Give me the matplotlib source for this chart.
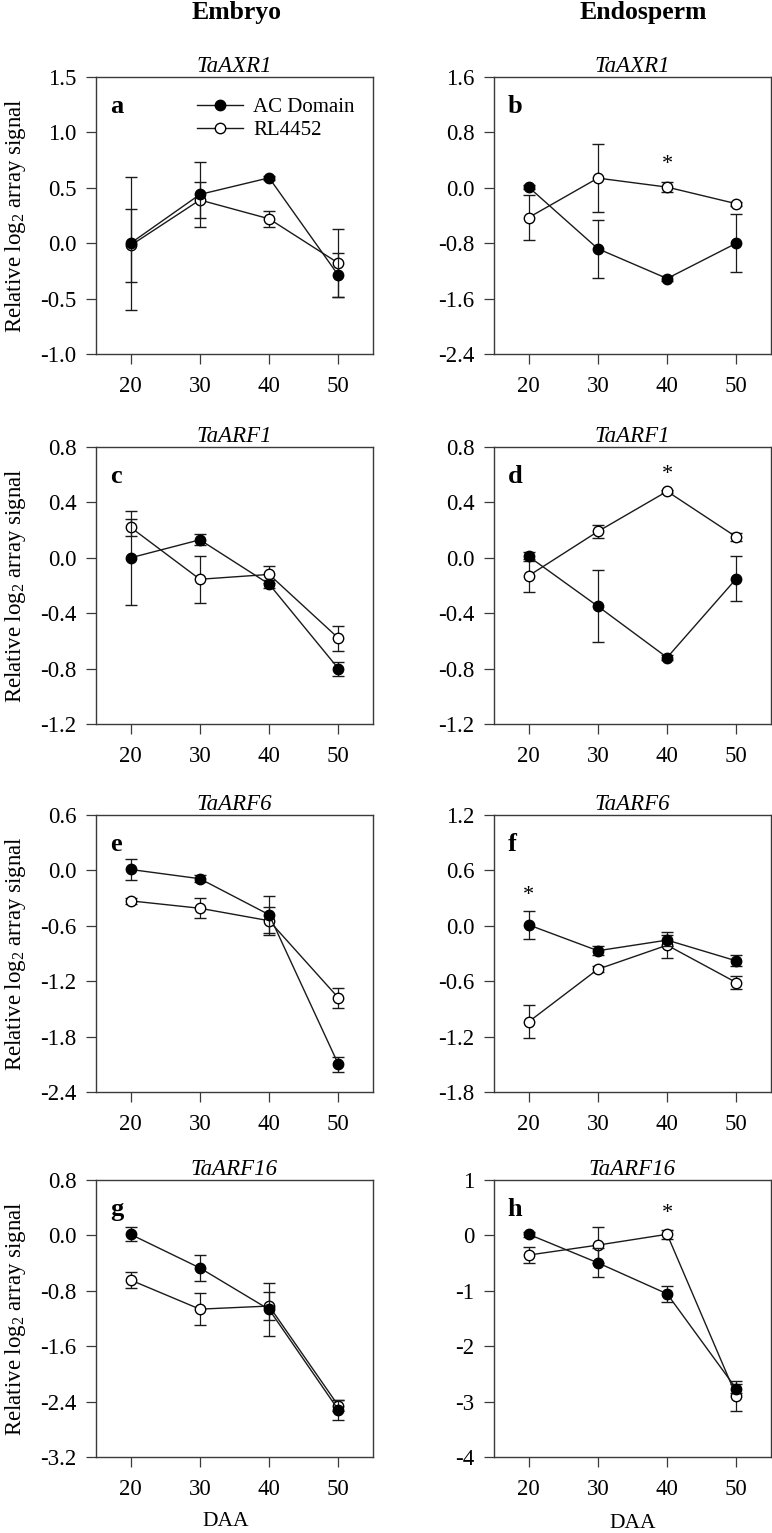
import numpy as np
import matplotlib
matplotlib.use("Agg")
import matplotlib.pyplot as plt
from matplotlib.lines import Line2D

plt.rcParams['font.family'] = ['Liberation Serif', 'DejaVu Serif']
plt.rcParams['mathtext.fontset'] = 'custom'
plt.rcParams['mathtext.rm'] = 'Liberation Serif'

days = [20, 30, 40, 50]

# panel a - TaAXR1 embryo
a_ac = [0.0, 0.44, 0.59, -0.29]
a_ac_err = [0.60, 0.29, 0.02, 0.20]
a_rl = [-0.02, 0.39, 0.22, -0.18]
a_rl_err = [0.33, 0.16, 0.07, 0.31]

# panel b - TaAXR1 endosperm
b_ac = [0.01, -0.88, -1.31, -0.80]
b_ac_err = [0.03, 0.42, 0.03, 0.42]
b_rl = [-0.43, 0.14, 0.01, -0.23]
b_rl_err = [0.32, 0.49, 0.07, 0.03]

# panel c - TaARF1 embryo
c_ac = [0.0, 0.13, -0.19, -0.80]
c_ac_err = [0.34, 0.04, 0.03, 0.05]
c_rl = [0.22, -0.155, -0.12, -0.58]
c_rl_err = [0.06, 0.17, 0.06, 0.09]

# panel d - TaARF1 endosperm
d_ac = [0.01, -0.35, -0.72, -0.15]
d_ac_err = [0.03, 0.26, 0.02, 0.16]
d_rl = [-0.13, 0.19, 0.48, 0.15]
d_rl_err = [0.12, 0.045, 0.01, 0.03]

# panel e - TaARF6 embryo
e_ac = [0.01, -0.09, -0.48, -2.10]
e_ac_err = [0.11, 0.04, 0.20, 0.08]
e_rl = [-0.33, -0.41, -0.545, -1.38]
e_rl_err = [0.03, 0.11, 0.15, 0.11]

# panel f - TaARF6 endosperm
f_ac = [0.01, -0.27, -0.155, -0.38]
f_ac_err = [0.155, 0.05, 0.06, 0.06]
f_rl = [-1.04, -0.47, -0.21, -0.615]
f_rl_err = [0.18, 0.03, 0.14, 0.07]

# panel g - TaARF16 embryo
g_ac = [0.015, -0.47, -1.07, -2.52]
g_ac_err = [0.10, 0.19, 0.38, 0.15]
g_rl = [-0.645, -1.065, -1.02, -2.46]
g_rl_err = [0.12, 0.23, 0.20, 0.08]

# panel h - TaARF16 endosperm
h_ac = [0.02, -0.495, -1.055, -2.77]
h_ac_err = [0.05, 0.26, 0.14, 0.08]
h_rl = [-0.355, -0.175, 0.02, -2.9]
h_rl_err = [0.15, 0.33, 0.08, 0.27]

genes = ['TaAXR1', 'TaAXR1', 'TaARF1', 'TaARF1', 'TaARF6', 'TaARF6', 'TaARF16', 'TaARF16']
letters = ['a', 'b', 'c', 'd', 'e', 'f', 'g', 'h']
ylims = [(-1.0, 1.5), (-2.4, 1.6), (-1.2, 0.8), (-1.2, 0.8),
         (-2.4, 0.6), (-1.8, 1.2), (-3.2, 0.8), (-4, 1)]
ysteps = [0.5, 0.8, 0.4, 0.4, 0.6, 0.6, 0.8, 1.0]
# star positions (day, y) for significant differences
stars = {'b': (40, 0.33), 'd': (40, 0.60), 'f': (20, 0.33), 'h': (40, 0.40)}

ac_all = [a_ac, b_ac, c_ac, d_ac, e_ac, f_ac, g_ac, h_ac]
ac_err_all = [a_ac_err, b_ac_err, c_ac_err, d_ac_err, e_ac_err, f_ac_err, g_ac_err, h_ac_err]
rl_all = [a_rl, b_rl, c_rl, d_rl, e_rl, f_rl, g_rl, h_rl]
rl_err_all = [a_rl_err, b_rl_err, c_rl_err, d_rl_err, e_rl_err, f_rl_err, g_rl_err, h_rl_err]

W, H = 772, 1533
fig = plt.figure(figsize=(W / 100, H / 100), dpi=100)

col_left = [96, 494]
ax_w = 277
ax_h = 277
row_top = [77, 447, 815, 1180]

spine_col = '#3a3a3a'
axes = []
for i in range(8):
    r, c = i // 2, i % 2
    ax = fig.add_axes([col_left[c] / W, 1 - (row_top[r] + ax_h) / H, ax_w / W, ax_h / H])
    axes.append(ax)

    # RL4452 drawn first so the filled AC points sit on top
    ax.errorbar(days, rl_all[i], yerr=rl_err_all[i], color='#1a1a1a', lw=1.0,
                marker='o', ms=7.5, mfc='white', mec='black', mew=1.0,
                capsize=4, elinewidth=0.9, capthick=0.9, zorder=3)
    ax.errorbar(days, ac_all[i], yerr=ac_err_all[i], color='#1a1a1a', lw=1.0,
                marker='o', ms=7.5, mfc='black', mec='black', mew=1.0,
                capsize=4, elinewidth=0.9, capthick=0.9, zorder=4)

    lo, hi = ylims[i]
    ax.set_ylim(lo, hi)
    ax.set_xlim(15, 55)
    ax.set_xticks(days)
    yt = np.round(np.arange(lo, hi + 1e-9, ysteps[i]), 6)
    ax.set_yticks(yt)
    if ysteps[i] == 1.0:
        labels = ['%d' % round(v) for v in yt]
    else:
        labels = ['%.1f' % v for v in yt]
    labels = ['0.0' if s == '-0.0' else s for s in labels]
    ax.set_yticklabels(labels)
    ax.tick_params(direction='out', length=7, width=0.9, color=spine_col,
                   labelsize=16.5, pad=7)
    ax.tick_params(axis='x', pad=9)
    for s in ax.spines.values():
        s.set_color(spine_col)
        s.set_linewidth(1.0)

    ax.set_title(genes[i], style='italic', fontsize=16.5, pad=3)
    ax.text(0.05, 0.895, letters[i], transform=ax.transAxes, fontsize=19,
            fontweight='bold', va='center', ha='left')
    if letters[i] in stars:
        sx, sy = stars[letters[i]]
        ax.text(sx, sy, '*', fontsize=16, ha='center', va='center')

    if c == 0:
        ax.set_ylabel('Relative log$_2$ array signal', fontsize=16.5)
        ax.yaxis.set_label_coords(-0.245, 0.5)

# legend in panel a
h1 = Line2D([], [], color='#1a1a1a', lw=1.0, marker='o', ms=7.5, mfc='black', mec='black')
h2 = Line2D([], [], color='#1a1a1a', lw=1.0, marker='o', ms=7.5, mfc='white', mec='black')
axes[0].legend([h1, h2], ['AC Domain', 'RL4452'], loc='upper right',
               bbox_to_anchor=(0.98, 0.97), frameon=False, fontsize=15,
               handlelength=2.2, handletextpad=0.5, labelspacing=0.15,
               borderaxespad=0.2)

fig.text(237 / W, 1 - 12 / H, 'Embryo', fontsize=18.5, fontweight='bold',
         ha='center', va='center')
fig.text(643 / W, 1 - 12 / H, 'Endosperm', fontsize=18.5, fontweight='bold',
         ha='center', va='center')
fig.text(226 / W, 1 - 1521 / H, 'DAA', fontsize=15.5, ha='center', va='center')
fig.text(633 / W, 1 - 1523 / H, 'DAA', fontsize=15.5, ha='center', va='center')

fig.savefig('out.png', dpi=100, facecolor='white')
